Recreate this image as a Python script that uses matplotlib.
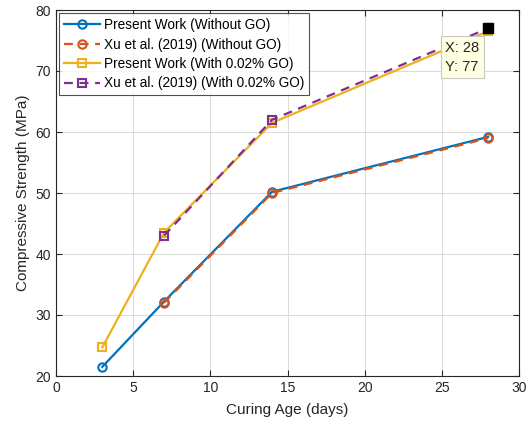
import matplotlib
matplotlib.use("Agg")
import matplotlib.pyplot as plt

plt.rcParams['font.family'] = ['Liberation Sans', 'DejaVu Sans']

days_present = [3, 7, 14, 28]
days_xu = [7, 14, 28]
present_wo = [21.5, 32.2, 50.2, 59.2]
xu_wo = [32.0, 50.0, 59.0]
present_w = [24.7, 43.5, 61.5, 76.5]
xu_w = [43.0, 62.0, 77.0]
labels = ["Present Work (Without GO)", "Xu et al. (2019) (Without GO)",
          "Present Work (With 0.02% GO)", "Xu et al. (2019) (With 0.02% GO)"]
tip_x, tip_y = 28, 77

c_blue, c_orange, c_yellow, c_purple = '#0072BD', '#D95319', '#EDB120', '#7E2F8E'

fig = plt.figure(figsize=(5.29, 4.25), dpi=100)
ax = fig.add_axes([56/529, 1-376/425, (519-56)/529, (376-10)/425])

ax.plot(days_present, present_wo, '-', color=c_blue, marker='o', mfc='none', ms=6, mew=1.5, lw=1.6, label=labels[0])
ax.plot(days_xu, xu_wo, '--', color=c_orange, marker='o', mfc='none', ms=6, mew=1.5, lw=1.6, dashes=(4, 3), label=labels[1])
ax.plot(days_present, present_w, '-', color=c_yellow, marker='s', mfc='none', ms=6, mew=1.5, lw=1.6, label=labels[2])
ax.plot(days_xu, xu_w, '--', color=c_purple, marker='s', mfc='none', ms=6, mew=1.5, lw=1.6, dashes=(4, 3), label=labels[3])

ax.plot([tip_x], [tip_y], 's', color='black', ms=7, zorder=10, clip_on=False)
ax.annotate(f"X: {tip_x}\nY: {tip_y}", xy=(tip_x, tip_y), xytext=(-31, -9), textcoords='offset points',
            ha='left', va='top', fontsize=10.5, color='#262626', linespacing=1.45,
            bbox=dict(boxstyle='square,pad=0.3', fc='#FFFFE1', ec='#C8C8C8', lw=0.8), zorder=11)

ax.set_xlim(0, 30)
ax.set_ylim(20, 80)
ax.set_xticks(range(0, 31, 5))
ax.set_yticks(range(20, 81, 10))
ax.grid(True, color='#DCDCDC', lw=0.8)
ax.set_axisbelow(True)
ax.tick_params(direction='in', top=True, right=True, labelsize=10, colors='#262626', length=4)
for s in ax.spines.values():
    s.set_color('#262626')
    s.set_linewidth(0.8)
ax.set_xlabel("Curing Age (days)", fontsize=11, color='#262626', labelpad=6)
ax.set_ylabel("Compressive Strength (MPa)", fontsize=11, color='#262626')

leg = ax.legend(loc='upper left', fontsize=9.8, frameon=True, fancybox=False, edgecolor='#262626',
                borderaxespad=0.25, handlelength=2.6, labelspacing=0.4, borderpad=0.35, handletextpad=0.35)
leg.get_frame().set_linewidth(0.8)

fig.savefig("out.png", dpi=100)
